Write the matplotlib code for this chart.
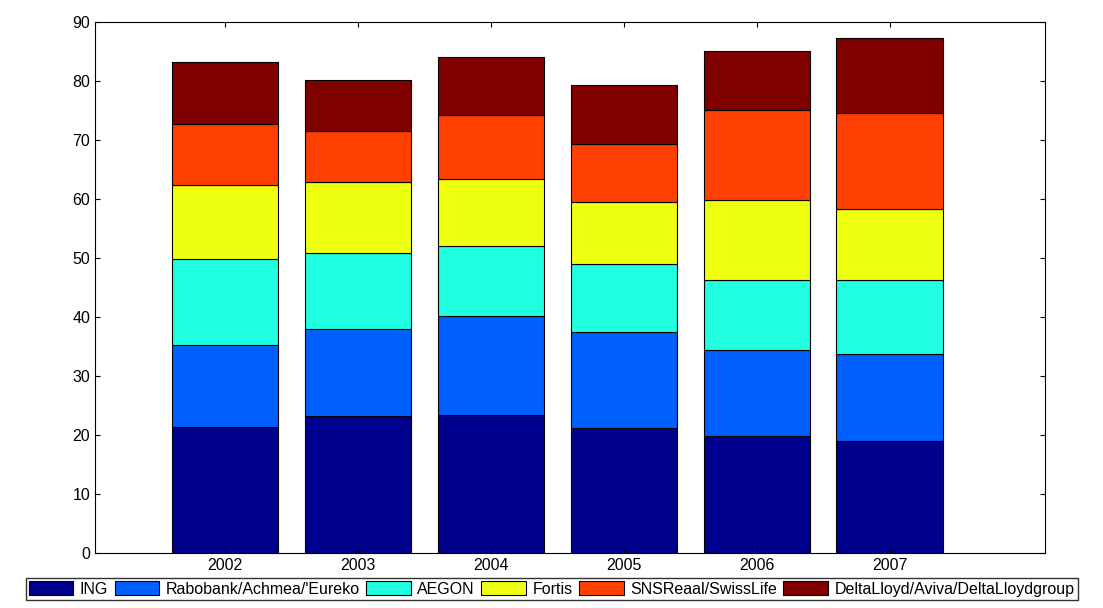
import numpy as np
import matplotlib.pyplot as plt

plt.rcParams['font.family'] = ['Liberation Sans', 'DejaVu Sans']

years = [2002, 2003, 2004, 2005, 2006, 2007]
names = ["ING", "Rabobank/Achmea/'Eureko", "AEGON", "Fortis",
         "SNSReaal/SwissLife", "DeltaLloyd/Aviva/DeltaLloydgroup"]
colors = ["#00008F", "#0060FF", "#20FFDF", "#EFFF10", "#FF4000", "#800000"]

ing = [21.4, 23.2, 23.4, 21.2, 19.8, 19.0]
rabo = [13.9, 14.8, 16.8, 16.3, 14.6, 14.7]
aegon = [14.5, 12.8, 11.8, 11.5, 11.9, 12.6]
fortis = [12.6, 12.1, 11.4, 10.5, 13.5, 12.0]
sns = [10.3, 8.6, 10.8, 9.8, 15.3, 16.3]
delta = [10.5, 8.7, 9.9, 10.0, 10.0, 12.7]
series = [ing, rabo, aegon, fortis, sns, delta]

fig = plt.figure(figsize=(11.03, 6.08), dpi=100)
ax = fig.add_axes([95/1103, 1-553/608, 950/1103, 531/608])
bottom = np.zeros(len(years))
handles = []
for vals, c, n in zip(series, colors, names):
    h = ax.bar(years, vals, 0.8, bottom=bottom, color=c, edgecolor="black", linewidth=0.8, label=n)
    handles.append(h)
    bottom += np.array(vals)
ax.set_xlim(2001.02, 2008.17)
ax.set_ylim(0, 90)
ax.set_xticks(years)
ax.set_yticks(range(0, 91, 10))
ax.tick_params(direction="in", labelsize=11.5, top=True, right=True, labeltop=False, labelright=False)
fig.legend(handles=handles, loc="lower center", bbox_to_anchor=(0.5, 0.0), ncol=6, fontsize=11.5,
           fancybox=False, edgecolor="black", handlelength=2.8, handletextpad=0.4, columnspacing=0.4,
           borderpad=0.2, handleheight=1.0)
fig.savefig("out.png", dpi=100)
